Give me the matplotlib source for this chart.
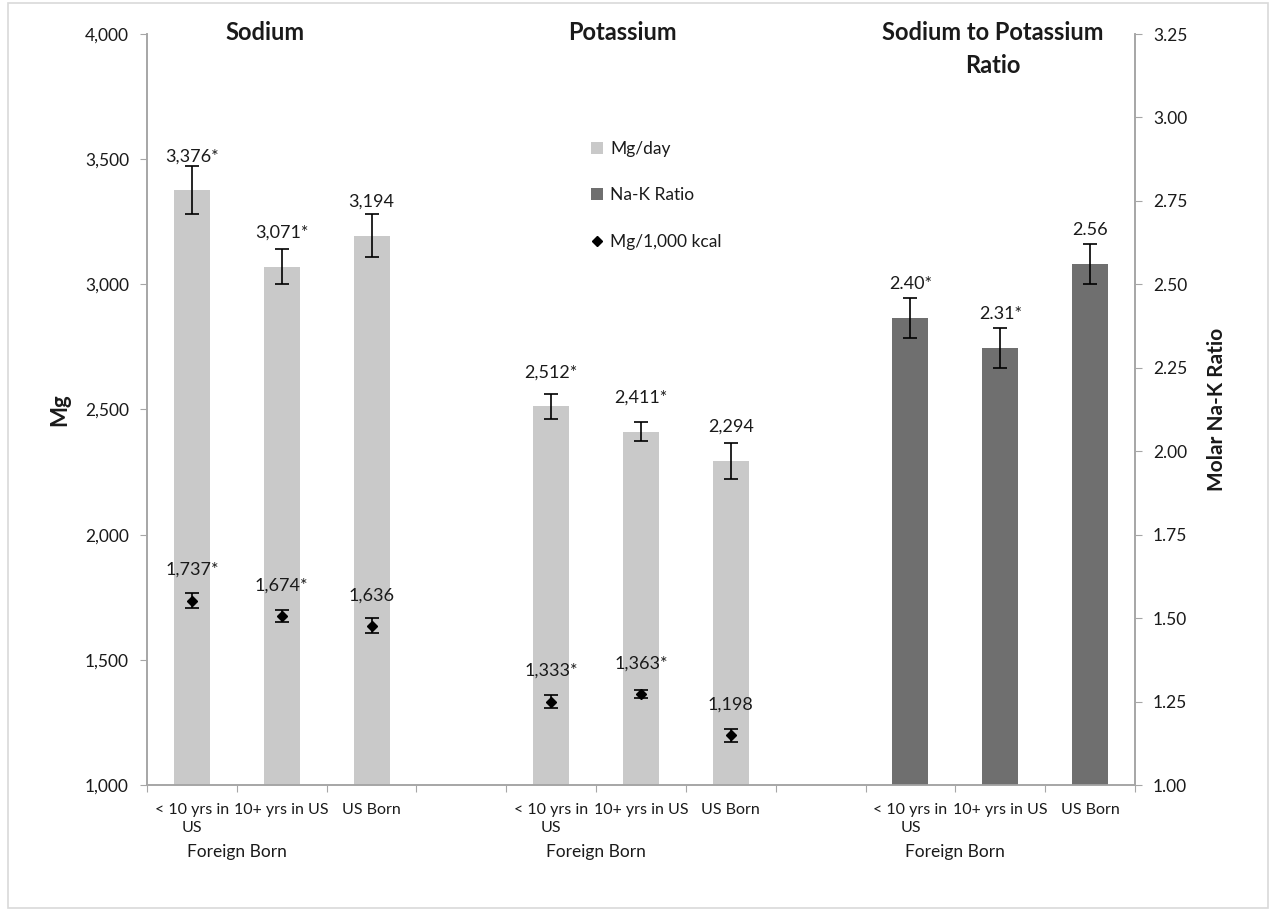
import matplotlib
matplotlib.use("Agg")
import matplotlib.pyplot as plt
from matplotlib.patches import Patch, Rectangle
from matplotlib.lines import Line2D
import matplotlib.transforms as mtransforms
import numpy as np

plt.rcParams['font.family'] = ['Lato', 'DejaVu Sans']

# ---- data ----
groups = ["< 10 yrs in\nUS", "10+ yrs in US", "US Born"]
panel_titles = ["Sodium", "Potassium", "Sodium to Potassium\nRatio"]
group_caption = "Foreign Born"

sodium_day = [3376, 3071, 3194]
sodium_day_err = [96, 70, 86]
sodium_day_lbl = ["3,376*", "3,071*", "3,194"]

potassium_day = [2512, 2411, 2294]
potassium_day_err = [49, 38, 72]
potassium_day_lbl = ["2,512*", "2,411*", "2,294"]

sodium_kcal = [1737, 1674, 1636]
sodium_kcal_err = [28, 24, 30]
sodium_kcal_lbl = ["1,737*", "1,674*", "1,636"]

potassium_kcal = [1333, 1363, 1198]
potassium_kcal_err = [25, 15, 25]
potassium_kcal_lbl = ["1,333*", "1,363*", "1,198"]

ratio = [2.40, 2.31, 2.56]
ratio_err = [0.06, 0.06, 0.06]
ratio_lbl = ["2.40*", "2.31*", "2.56"]

legend_labels = ["Mg/day", "Na-K Ratio", "Mg/1,000 kcal"]

# ---- styling ----
light = "#C9C9C9"
dark = "#6F6F6F"
spine_c = "#A6A6A6"
txt = "#1A1A1A"

W, H = 1274, 922
fig = plt.figure(figsize=(W / 100, H / 100), dpi=100)
L, R, B, T = 147, 1135, 785, 34
ax = fig.add_axes([L / W, 1 - B / H, (R - L) / W, (B - T) / H])
ax2 = ax.twinx()

pos_na = np.array([0, 1, 2])
pos_k = np.array([4, 5, 6])
pos_r = np.array([8, 9, 10])
bw = 0.4

ekw = dict(ecolor="black", elinewidth=1.2, capsize=5, capthick=1.2)

ax.bar(pos_na, sodium_day, bw, color=light, zorder=2)
ax.errorbar(pos_na, sodium_day, yerr=sodium_day_err, fmt="none", zorder=3, **ekw)
ax.bar(pos_k, potassium_day, bw, color=light, zorder=2)
ax.errorbar(pos_k, potassium_day, yerr=potassium_day_err, fmt="none", zorder=3, **ekw)

ax.errorbar(pos_na, sodium_kcal, yerr=sodium_kcal_err, fmt="D", color="black",
            markersize=5, zorder=4, **ekw)
ax.errorbar(pos_k, potassium_kcal, yerr=potassium_kcal_err, fmt="D", color="black",
            markersize=5, zorder=4, **ekw)

ax2.bar(pos_r, ratio, bw, color=dark, zorder=2)
ax2.errorbar(pos_r, ratio, yerr=ratio_err, fmt="none", zorder=3, **ekw)

fs = 13
for a, xs, vals, lbls, off in [
    (ax, pos_na, sodium_day, sodium_day_lbl, 24.5),
    (ax, pos_k, potassium_day, potassium_day_lbl, 24.5),
    (ax, pos_na, sodium_kcal, sodium_kcal_lbl, 22),
    (ax, pos_k, potassium_kcal, potassium_kcal_lbl, 22),
    (ax2, pos_r, ratio, ratio_lbl, 24.5),
]:
    for x, v, l in zip(xs, vals, lbls):
        a.annotate(l, (x, v), xytext=(0, off), textcoords="offset points",
                   ha="center", va="center", fontsize=fs, color=txt, zorder=5)

# axes limits / ticks
ax.set_xlim(-0.5, 10.5)
ax.set_ylim(1000, 4000)
ax.set_yticks(np.arange(1000, 4001, 500))
ax.set_yticklabels([f"{v:,}" for v in range(1000, 4001, 500)])
ax2.set_ylim(1.0, 3.25)
ax2.set_yticks(np.arange(1.0, 3.26, 0.25))
ax2.set_yticklabels([f"{v:.2f}" for v in np.arange(1.0, 3.26, 0.25)])

ax.set_xticks(np.arange(-0.5, 10.6, 1))
ax.set_xticklabels([])
centers = list(pos_na) + list(pos_k) + list(pos_r)
ax.set_xticks(centers, minor=True)
ax.set_xticklabels(groups * 3, minor=True, fontsize=11.5, color=txt, linespacing=1.35)
ax.tick_params(axis="x", which="minor", length=0, pad=13)
ax.tick_params(axis="x", which="major", length=5, color=spine_c, direction="out")

ax.tick_params(axis="y", length=5, color=spine_c, labelsize=12.5, labelcolor=txt, pad=8)
ax2.tick_params(axis="y", length=5, color=spine_c, labelsize=12.5, labelcolor=txt, pad=8)

for a in (ax, ax2):
    a.spines["top"].set_visible(False)
    for s in ("left", "right", "bottom"):
        a.spines[s].set_color(spine_c)
        a.spines[s].set_linewidth(1.2)

ax.set_ylabel("Mg", fontsize=16, fontweight="bold", color=txt, labelpad=0)
ax.yaxis.set_label_coords((70 - L) / (R - L), 0.5)
ax2.set_ylabel("Molar Na-K Ratio", fontsize=15, fontweight="bold", color=txt)
ax2.yaxis.set_label_coords((1207 - L) / (R - L), 0.5)

# group caption
trans = mtransforms.blended_transform_factory(ax.transData, ax.transAxes)
cap_y = (B - 852) / (B - T)
for start in (pos_na[0], pos_k[0], pos_r[0]):
    ax.text(start + 0.5, cap_y, group_caption, transform=trans, ha="center",
            va="center", fontsize=12.5, color=txt)

# panel titles
for xpix, t in zip([265, 622, 993], panel_titles):
    fig.text(xpix / W, 1 - 21 / H, t, ha="center", va="top", fontsize=17,
             fontweight="bold", color=txt, linespacing=1.55)

# legend
handles = [Patch(facecolor=light, edgecolor="none"),
           Patch(facecolor=dark, edgecolor="none"),
           Line2D([], [], marker="D", color="black", linestyle="none", markersize=5)]
ax.legend(handles, legend_labels, loc="upper left",
          bbox_to_anchor=((591 - L) / (R - L), (B - 141) / (B - T)),
          frameon=False, fontsize=12.5, handlelength=0.7, handleheight=0.7,
          handletextpad=0.4, labelspacing=1.75, borderpad=0, borderaxespad=0,
          labelcolor=txt)

# chart border
fig.patches.append(Rectangle((8 / W, 1 - 908 / H), 1260 / W, 905 / H,
                             transform=fig.transFigure, fill=False,
                             edgecolor="#D9D9D9", linewidth=1.2))

fig.savefig("out.png", dpi=100)
